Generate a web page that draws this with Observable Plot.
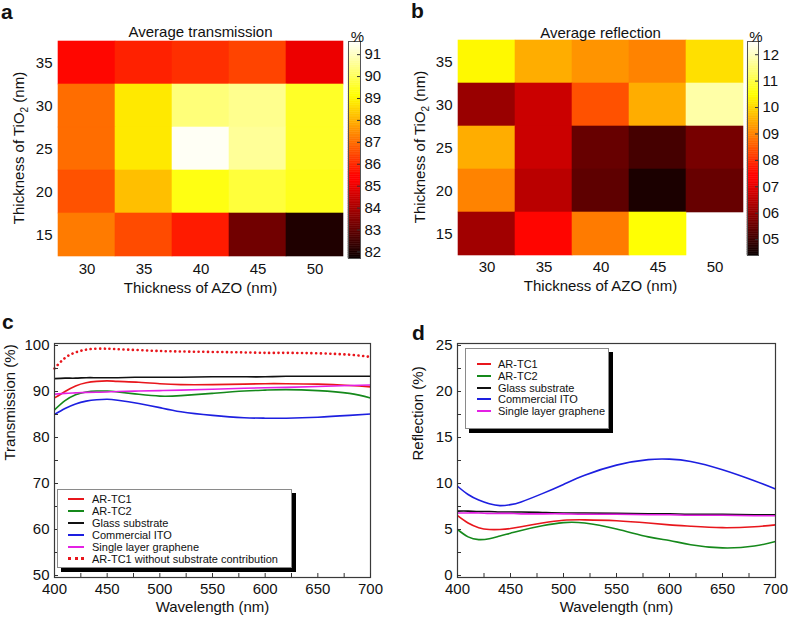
<!DOCTYPE html>
<html>
<head>
<meta charset="utf-8">
<script src="https://cdn.jsdelivr.net/npm/d3@7"></script>
<script src="https://cdn.jsdelivr.net/npm/@observablehq/plot@0.6"></script>
<style>
  body { margin: 0; background: #fff; }
  #fig { position: relative; width: 788px; height: 620px; overflow: hidden; background: #fff;
         font-family: "Liberation Sans", Arial, Helvetica, sans-serif; color: #111; }
  .panel { position: absolute; }
  .panel svg { max-width: none !important; }
  .legend { position: absolute; background: #fff; border: 1px solid #8a8a8a; box-shadow: 4px 4px 0 #000;
            font-size: 11px; font-family: "Liberation Sans", Arial, Helvetica, sans-serif; color: #111; }
  .legend .row { position: absolute; white-space: nowrap; height: 12px; line-height: 12px; }
  .legend .swatch { position: absolute; top: 5px; height: 0; }
  .legend .label { position: absolute; top: 0; }
</style>
</head>
<body>
<div id="fig"></div>
<script>
// ---------------- DATA ----------------
const azo = [30, 35, 40, 45, 50];          // Thickness of AZO (nm), columns
const tio2 = [35, 30, 25, 20, 15];         // Thickness of TiO2 (nm), rows top -> bottom
const avgTransmission = [                   // %
  [85.5, 85.9, 86.1, 86.4, 85.0],
  [87.0, 88.8, 90.3, 90.5, 89.5],
  [87.0, 88.8, 91.5, 90.6, 89.5],
  [86.6, 88.2, 89.3, 89.7, 89.4],
  [87.2, 86.5, 85.8, 83.2, 82.0]
];
const avgReflection = [                     // %
  [10.4, 9.5, 9.2, 9.0, 10.1],
  [6.1, 6.7, 8.4, 9.5, 11.8],
  [9.5, 6.7, 5.5, 5.1, 5.7],
  [9.0, 6.5, 5.4, 4.6, 5.5],
  [6.2, 7.5, 8.9, 10.5, null]
];
const transmissionTicks = [82, 83, 84, 85, 86, 87, 88, 89, 90, 91];
const reflectionTicks = [5, 6, 7, 8, 9, 10, 11, 12];

const wavelength = [400, 410, 420, 430, 440, 450, 460, 480, 500, 520, 550, 580, 600, 620, 650, 680, 700];
const transAR1      = [88.6, 90.0, 91.2, 91.9, 92.2, 92.3, 92.2, 92.0, 91.7, 91.5, 91.5, 91.6, 91.7, 91.7, 91.6, 91.3, 91.0];
const transAR2      = [86.0, 88.0, 89.3, 89.9, 90.1, 90.1, 89.9, 89.4, 89.0, 89.1, 89.6, 90.1, 90.3, 90.4, 90.2, 89.6, 88.6];
const transGlass    = [92.8, 92.9, 92.9, 93.0, 93.0, 93.0, 93.0, 93.1, 93.1, 93.1, 93.2, 93.2, 93.2, 93.3, 93.3, 93.3, 93.3];
const transITO      = [85.0, 86.3, 87.3, 87.9, 88.2, 88.3, 88.1, 87.4, 86.5, 85.6, 84.8, 84.3, 84.2, 84.2, 84.4, 84.8, 85.1];
const transGraphene = [89.4, 89.6, 89.7, 89.8, 89.85, 89.9, 90.0, 90.1, 90.2, 90.3, 90.5, 90.7, 90.8, 90.9, 91.1, 91.3, 91.4];
const transAR1NoSub = [95.0, 97.3, 98.5, 99.1, 99.3, 99.3, 99.2, 99.0, 98.8, 98.7, 98.6, 98.5, 98.4, 98.4, 98.3, 98.0, 97.5];

const reflAR1      = [6.5, 5.7, 5.2, 5.0, 5.0, 5.1, 5.3, 5.7, 6.0, 6.05, 5.95, 5.7, 5.5, 5.35, 5.2, 5.3, 5.5];
const reflAR2      = [5.0, 4.2, 3.9, 4.0, 4.3, 4.6, 4.9, 5.4, 5.75, 5.7, 5.05, 4.2, 3.8, 3.35, 3.0, 3.2, 3.7];
const reflGlass    = [7.0, 7.0, 6.95, 6.95, 6.9, 6.9, 6.9, 6.85, 6.8, 6.8, 6.75, 6.7, 6.7, 6.65, 6.65, 6.6, 6.6];
const reflITO      = [9.7, 8.8, 8.2, 7.8, 7.6, 7.7, 8.0, 8.9, 9.9, 10.9, 12.0, 12.6, 12.65, 12.4, 11.5, 10.3, 9.4];
const reflGraphene = [6.8, 6.8, 6.8, 6.75, 6.75, 6.75, 6.7, 6.7, 6.7, 6.65, 6.65, 6.6, 6.6, 6.55, 6.55, 6.5, 6.5];

const seriesNames = ["AR-TC1", "AR-TC2", "Glass substrate", "Commercial ITO", "Single layer graphene",
                     "AR-TC1 without substrate contribution"];
const seriesColors = ["#e8161c", "#15891b", "#111111", "#1d1fe0", "#e420e4", "#e8161c"];
const wavelengthTicks = [400, 450, 500, 550, 600, 650, 700];
const transTicks = [50, 60, 70, 80, 90, 100];
const reflTicks = [0, 5, 10, 15, 20, 25];

// ---------------- HELPERS ----------------
const FONT = '"Liberation Sans", Arial, Helvetica, sans-serif';
const fig = document.getElementById("fig");
function place(node, left, top, w) {
  const d = document.createElement("div");
  d.className = "panel";
  d.style.left = left + "px"; d.style.top = top + "px"; d.style.width = w + "px";
  d.appendChild(node);
  fig.appendChild(d);
  return d;
}
function hot(t) {
  t = Math.max(0, Math.min(1, t));
  const r = Math.min(1, 0.04 + t / 0.375);
  const g = Math.max(0, Math.min(1, (t - 0.375) / 0.375));
  const b = Math.max(0, Math.min(1, (t - 0.75) / 0.25));
  return `rgb(${Math.round(r * 255)},${Math.round(g * 255)},${Math.round(b * 255)})`;
}
function cellsOf(matrix) {
  return tio2.flatMap((t, i) => azo.map((a, j) => ({azo: a, tio2: t, v: matrix[i][j]}))).filter(d => d.v != null);
}

function heatmap({matrix, domain, title, width, mr, mt, mb}) {
  return Plot.plot({
    width, height: 310, marginLeft: 57, marginRight: mr, marginTop: mt, marginBottom: mb,
    style: {fontFamily: FONT, fontSize: "15px", color: "#111", background: "transparent"},
    x: {type: "band", domain: azo, padding: 0},
    y: {type: "band", domain: tio2, padding: 0},
    color: {type: "linear", domain, interpolate: hot},
    marks: [
      Plot.cell(cellsOf(matrix), {x: "azo", y: "tio2", fill: "v", stroke: "v", strokeWidth: 0.6, inset: 0}),
      Plot.axisX({tickSize: 0, tickPadding: 6, label: null}),
      Plot.axisY({tickSize: 0, tickPadding: 5, label: null}),
      Plot.text([title], {text: d => d, frameAnchor: "top", dy: -13, fontSize: 15}),
      Plot.text(["Thickness of AZO (nm)"], {text: d => d, frameAnchor: "bottom", dy: 35, fontSize: 15})
    ]
  });
}

function colorbar({domain, ticks, fmt, width, ml, mr, mt, mb}) {
  const N = 120, step = (domain[1] - domain[0]) / N;
  const steps = d3.range(N).map(i => ({y1: domain[0] + i * step, y2: domain[0] + (i + 1) * step, v: domain[0] + (i + 0.5) * step}));
  return Plot.plot({
    width, height: 310, marginLeft: ml, marginRight: mr, marginTop: mt, marginBottom: mb,
    style: {fontFamily: FONT, fontSize: "15px", color: "#111", background: "transparent"},
    x: {domain: [0, 1], axis: null},
    y: {domain},
    color: {type: "linear", domain, interpolate: hot},
    marks: [
      Plot.rect(steps, {x1: 0, x2: 1, y1: "y1", y2: "y2", fill: "v", stroke: "v", strokeWidth: 0.5}),
      Plot.frame({stroke: "#555", strokeWidth: 1}),
      Plot.tickY(ticks, {y: d => d, insetLeft: width - ml - mr - 3, stroke: "#333"}),
      Plot.axisY(ticks, {anchor: "right", tickSize: 0, tickPadding: 4, tickFormat: fmt, label: null}),
      Plot.text(["%"], {text: d => d, frameAnchor: "top", dx: 3, dy: -10, fontSize: 15})
    ]
  });
}

function spectra({series, names, colors, dashedIndex, yDomain, yTicks, yMinor, ylabel, width, ml, mr}) {
  const H = 310 - 33 - 43, W = width - ml - mr;
  const lines = series.map((s, i) => {
    const rows = wavelength.map((w, j) => ({w, v: s[j]}));
    return Plot.line(rows, {x: "w", y: "v", stroke: colors[i], strokeWidth: i === dashedIndex ? 2.6 : 1.6,
      strokeDasharray: i === dashedIndex ? "0.1,4.6" : null, strokeLinecap: i === dashedIndex ? "round" : null,
      curve: "natural"});
  });
  return Plot.plot({
    width, height: 310, marginLeft: ml, marginRight: mr, marginTop: 33, marginBottom: 43,
    style: {fontFamily: FONT, fontSize: "15px", color: "#111", background: "transparent"},
    x: {domain: [400, 700]},
    y: {domain: yDomain, inset: 2},
    marks: [
      ...lines,
      Plot.frame({stroke: "#3a3a3a", strokeWidth: 1.2}),
      Plot.tickX(d3.range(400, 701, 25), {x: d => d, insetTop: H - 4, stroke: "#333"}),
      Plot.tickY(yMinor, {y: d => d, insetRight: W - 4, stroke: "#333"}),
      Plot.axisX(wavelengthTicks, {tickSize: 0, tickPadding: 6, label: null}),
      Plot.axisY(yTicks, {tickSize: 0, tickPadding: 5, label: null}),
      Plot.text(["Wavelength (nm)"], {text: d => d, frameAnchor: "bottom", dy: 34, fontSize: 15}),
      Plot.text([ylabel], {text: d => d, frameAnchor: "left", dx: -(ml - (ml === 54 ? 10 : 18)), rotate: -90, fontSize: 15})
    ]
  });
}

function legend({left, top, w, h, names, colors, dashedIndex, rowTop, rowStep, swX, swW, textX}) {
  const box = document.createElement("div");
  box.className = "legend";
  Object.assign(box.style, {left: left + "px", top: top + "px", width: w + "px", height: h + "px"});
  names.forEach((n, i) => {
    const row = document.createElement("div");
    row.className = "row";
    row.style.top = (rowTop + i * rowStep) + "px"; row.style.left = "0px";
    const sw = document.createElement("div");
    sw.className = "swatch";
    sw.style.left = swX + "px"; sw.style.width = swW + "px";
    sw.style.borderTop = i === dashedIndex ? `3px dotted ${colors[i]}` : `2px solid ${colors[i]}`;
    if (i === dashedIndex) sw.style.top = "4px";
    const lb = document.createElement("div");
    lb.className = "label"; lb.style.left = textX + "px"; lb.textContent = n;
    row.appendChild(sw); row.appendChild(lb);
    box.appendChild(row);
  });
  fig.appendChild(box);
}

// ---------------- PANELS ----------------
place(heatmap({matrix: avgTransmission, domain: [81.7, 91.6], title: "Average transmission", width: 400, mr: 57, mt: 39, mb: 53}), 0, 0, 400);
place(colorbar({domain: [81.7, 91.6], ticks: transmissionTicks, fmt: d => String(d), width: 60, ml: 8, mr: 40, mt: 41, mb: 52}), 340, 0, 60);

place(heatmap({matrix: avgReflection, domain: [4.4, 12.5], title: "Average reflection", width: 388, mr: 45, mt: 40, mb: 55}), 400, 0, 388);
place(colorbar({domain: [4.4, 12.5], ticks: reflectionTicks, fmt: d3.format("02d"), width: 48, ml: 7, mr: 30, mt: 41, mb: 55}), 740, 0, 48);

place(spectra({
  series: [transAR1, transAR2, transGlass, transITO, transGraphene, transAR1NoSub],
  names: seriesNames, colors: seriesColors, dashedIndex: 5,
  yDomain: [50, 100], yTicks: transTicks, yMinor: d3.range(50, 101, 5), ylabel: "Transmission (%)",
  width: 400, ml: 54, mr: 30
}), 0, 310, 400);

place(spectra({
  series: [reflAR1, reflAR2, reflGlass, reflITO, reflGraphene],
  names: seriesNames.slice(0, 5), colors: seriesColors.slice(0, 5), dashedIndex: -1,
  yDomain: [0, 25], yTicks: reflTicks, yMinor: d3.range(0, 25.1, 2.5), ylabel: "Reflection (%)",
  width: 388, ml: 57, mr: 13
}), 400, 310, 388);

legend({left: 57, top: 489, w: 233, h: 77, names: seriesNames, colors: seriesColors, dashedIndex: 5,
        rowTop: 3, rowStep: 11.9, swX: 10, swW: 16, textX: 34});
legend({left: 465, top: 348, w: 142, h: 79, names: seriesNames.slice(0, 5), colors: seriesColors.slice(0, 5), dashedIndex: -1,
        rowTop: 9, rowStep: 11.8, swX: 11, swW: 14, textX: 32});

// overlay: panel letters and the TiO2 axis titles (with subscript)
const ov = d3.select(fig).append("svg").attr("width", 788).attr("height", 620)
  .style("position", "absolute").style("left", 0).style("top", 0).style("pointer-events", "none");
[["a", 1, 19], ["b", 411, 18], ["c", 2, 329], ["d", 412, 340]].forEach(([t, x, y]) =>
  ov.append("text").attr("x", x).attr("y", y).attr("font-family", FONT).attr("font-weight", "bold")
    .attr("font-size", 21).attr("fill", "#111").text(t));
[[24, 148], [425, 147]].forEach(([cx, cy]) => {
  const t = ov.append("text").attr("font-family", FONT).attr("font-size", 15).attr("fill", "#111")
    .attr("text-anchor", "start");
  t.append("tspan").text("Thickness of TiO");
  t.append("tspan").attr("font-size", 10).attr("dy", 4).text("2");
  t.append("tspan").attr("dy", -4).text(" (nm)");
  const len = t.node().getComputedTextLength();
  t.attr("transform", `translate(${cx},${cy + len / 2}) rotate(-90)`);
});
</script>
</body>
</html>
